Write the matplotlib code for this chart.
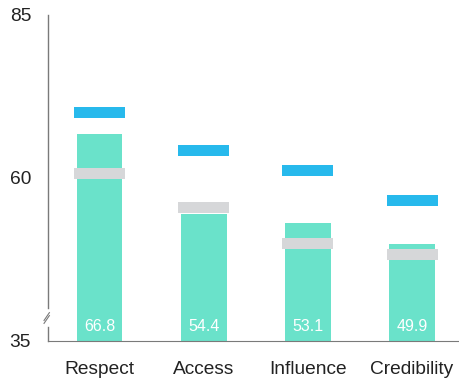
import matplotlib
matplotlib.use("Agg")
import matplotlib.pyplot as plt
from matplotlib.transforms import blended_transform_factory

categories = ["Respect", "Access", "Influence", "Credibility"]
bar_values = [66.8, 54.4, 53.1, 49.9]
blue_marks = [70.1, 64.2, 61.2, 56.6]
gray_marks = [60.7, 55.4, 49.9, 48.2]
y_ticks = [35, 60, 85]

plt.rcParams['font.family'] = ['Liberation Sans', 'DejaVu Sans']

teal = "#6ae2ca"
blue = "#27b9ec"
gray = "#d6d7d9"
axis_col = "#7a7a7a"

fig = plt.figure(figsize=(4.59, 3.81), dpi=100)
ax = fig.add_axes([0.104, 0.105, 0.896, 0.856])

x = list(range(len(categories)))
base = y_ticks[0]
ax.bar(x, [v - base for v in bar_values], bottom=base, width=0.44, color=teal, zorder=2)
mark_h = 1.7
ax.bar(x, [mark_h] * len(x), bottom=[v - mark_h / 2 for v in blue_marks], width=0.49, color=blue, zorder=3)
ax.bar(x, [mark_h] * len(x), bottom=[v - mark_h / 2 for v in gray_marks], width=0.49, color=gray, zorder=3)

trans = blended_transform_factory(ax.transData, ax.transAxes)
for xi, v in zip(x, bar_values):
    ax.text(xi, 0.045, f"{v:.1f}", transform=trans, ha="center", va="center",
            color="white", fontsize=11.5, zorder=4)

ax.set_xlim(-0.497, 3.45)
ax.set_ylim(35, 85)
ax.set_yticks(y_ticks)
ax.set_xticks(x)
ax.set_xticklabels(categories)
ax.tick_params(axis="both", length=0, labelsize=13.8, colors="#222222")
ax.tick_params(axis="x", pad=14.5)
ax.tick_params(axis="y", pad=12)

for s in ["top", "right"]:
    ax.spines[s].set_visible(False)
ax.spines["bottom"].set_color(axis_col)
ax.spines["left"].set_visible(False)

# left axis with break
ax.plot([0, 0], [0, 0.043], transform=ax.transAxes, color=axis_col, lw=1, clip_on=False)
ax.plot([0, 0], [0.101, 1.0], transform=ax.transAxes, color=axis_col, lw=1, clip_on=False)
for dy in (0.0, 0.009):
    ax.plot([-0.009, 0.004], [0.054 + dy, 0.078 + dy], transform=ax.transAxes,
            color=axis_col, lw=0.8, clip_on=False)

fig.savefig("out.png", dpi=100)
